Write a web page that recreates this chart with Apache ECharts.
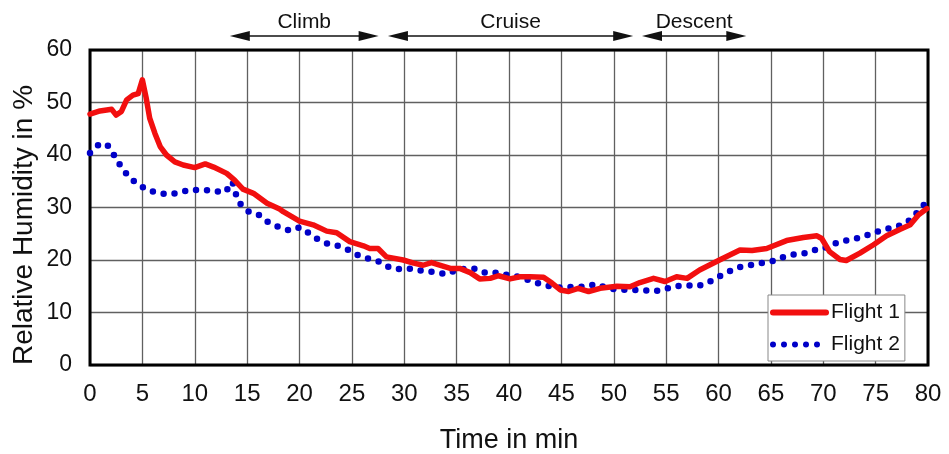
<!DOCTYPE html>
<html>
<head>
<meta charset="utf-8">
<script src="https://cdn.jsdelivr.net/npm/echarts@6/dist/echarts.min.js"></script>
<style>
html,body{margin:0;padding:0;background:#fff;}
#chart{width:949px;height:454px;}
</style>
</head>
<body>
<div id="chart"></div>
<script>
// ---- data ----
var xTicks = [0, 5, 10, 15, 20, 25, 30, 35, 40, 45, 50, 55, 60, 65, 70, 75, 80];
var yTicks = [0, 10, 20, 30, 40, 50, 60];

var flight1Time = [0, 0.95, 2.07, 2.5, 3.0, 3.5, 4.1, 4.6, 5.0, 5.35, 5.7, 6.2, 6.7, 7.3, 8.1, 8.9, 10, 11, 11.8, 13.05, 13.8, 14.6, 15.6, 16.9, 18.1, 18.45, 20, 21.3, 22.6, 23.55, 24.8, 26.1, 26.7, 27.5, 28.3, 29.9, 30.9, 31.8, 32.6, 34.4, 35.3, 36.3, 37.2, 38.2, 39, 40.1, 41.05, 42, 43.3, 44.1, 44.9, 45.7, 46.6, 47.6, 48.7, 50.3, 51.55, 52.5, 53.8, 54.9, 56, 57, 58.2, 60.1, 62.05, 63.2, 64.6, 66.5, 68.1, 69.4, 69.85, 70.6, 71.6, 72.2, 73.5, 74.8, 76.05, 77.3, 78.3, 79.1, 79.9];
var flight1RH   = [47.8, 48.4, 48.7, 47.6, 48.3, 50.5, 51.4, 51.7, 54.3, 51, 47, 44.1, 41.6, 40, 38.7, 38.1, 37.6, 38.3, 37.7, 36.5, 35.2, 33.5, 32.7, 30.8, 29.7, 29.2, 27.4, 26.7, 25.5, 25.2, 23.5, 22.7, 22.2, 22.2, 20.6, 20.0, 19.4, 19.0, 19.5, 18.4, 18.4, 17.6, 16.4, 16.5, 17.0, 16.4, 16.8, 16.8, 16.7, 15.6, 14.3, 14.0, 14.6, 14.0, 14.6, 15.0, 14.9, 15.7, 16.5, 15.9, 16.8, 16.5, 18.1, 20.0, 21.9, 21.8, 22.2, 23.7, 24.3, 24.6, 24.1, 21.6, 20.1, 19.9, 21.3, 22.9, 24.6, 25.8, 26.7, 28.6, 29.8];

var flight2Time = [0, 0.8, 1.6, 2.2, 2.8, 3.4, 4.2, 5.25, 6.3, 7.4, 8.5, 9.55, 10.6, 11.7, 12.7, 13.3, 13.6, 13.9, 14.3, 15.05, 16.1, 17, 18.1, 19.1, 20, 20.9, 21.7, 22.8, 23.7, 24.7, 25.7, 26.7, 27.6, 28.6, 29.7, 30.8, 31.8, 32.9, 34.0, 34.9, 36.0, 36.8, 37.8, 38.9, 39.9, 41.05, 42.1, 43.05, 44.1, 45.1, 46.2, 47.3, 48.3, 49.4, 50.5, 51.6, 52.7, 53.8, 54.8, 55.8, 56.9, 58.0, 59.0, 60.0, 60.9, 61.9, 63.0, 64.1, 65.2, 66.25, 67.3, 68.4, 69.5, 70.5, 71.5, 72.55, 73.6, 74.6, 75.6, 76.6, 77.6, 78.5, 79.2, 79.8];
var flight2RH   = [40.4, 41.9, 42.1, 40.3, 38.3, 36.6, 35.0, 33.6, 32.8, 32.5, 32.8, 33.4, 33.3, 33.3, 32.8, 33.8, 34.9, 32.7, 30.8, 29.3, 28.6, 27.2, 26.2, 25.6, 26.2, 25.1, 24.0, 23.0, 22.7, 21.9, 20.8, 20.2, 19.7, 18.6, 18.2, 18.4, 17.9, 17.7, 17.3, 18.0, 18.4, 18.3, 17.5, 17.6, 17.1, 16.8, 16.0, 15.4, 14.9, 14.7, 14.9, 14.9, 15.4, 14.6, 14.4, 14.3, 14.3, 14.0, 14.4, 15.0, 15.2, 15.0, 15.7, 16.8, 17.7, 18.6, 19.0, 19.4, 19.8, 20.6, 21.1, 21.3, 22.1, 22.5, 23.5, 23.8, 24.3, 25.0, 25.7, 26.2, 26.7, 27.9, 29.7, 30.9];

var phaseNames = ['Climb', 'Cruise', 'Descent'];
var phaseStart = [14.3, 29.4, 53.65];
var phaseEnd   = [26.6, 50.9, 61.7];

var seriesNames = ['Flight 1', 'Flight 2'];

function zip(a, b) { var r = []; for (var i = 0; i < a.length; i++) r.push([a[i], b[i]]); return r; }

var FONT = '"Liberation Sans", Arial, Helvetica, sans-serif';
var RED = '#f20f0f', BLUE = '#0000c8';

var phaseLines = phaseNames.map(function (n, i) {
  return [{ name: n, coord: [phaseStart[i], 0.28] }, { coord: [phaseEnd[i], 0.28] }];
});

var chart = echarts.init(document.getElementById('chart'), null, { renderer: 'canvas' });
chart.setOption({
  animation: false,
  backgroundColor: '#fff',
  textStyle: { fontFamily: FONT },
  grid: [
    { left: 90, right: 21, top: 50, bottom: 89, show: true, borderColor: '#000', borderWidth: 3, backgroundColor: 'transparent', z: 3, containLabel: false, outerBoundsMode: 'none' },
    { left: 90, right: 21, top: 0, height: 50, show: false, containLabel: false, outerBoundsMode: 'none' }
  ],
  xAxis: [
    {
      type: 'value', min: xTicks[0], max: xTicks[xTicks.length - 1], interval: 5, gridIndex: 0,
      axisLine: { show: false }, axisTick: { show: false },
      splitLine: { show: true, lineStyle: { color: '#606060', width: 1.3 } },
      axisLabel: { fontSize: 24, color: '#111', margin: 17, fontFamily: FONT },
      name: 'Time in min', nameLocation: 'middle', nameGap: 62,
      nameTextStyle: { fontSize: 27, color: '#111', fontFamily: FONT }
    },
    { type: 'value', min: 0, max: 80, gridIndex: 1, show: false }
  ],
  yAxis: [
    {
      type: 'value', min: yTicks[0], max: yTicks[yTicks.length - 1], interval: 10, gridIndex: 0,
      axisLine: { show: false }, axisTick: { show: false },
      splitLine: { show: true, lineStyle: { color: '#606060', width: 1.3 } },
      axisLabel: { fontSize: 23, color: '#111', margin: 18, fontFamily: FONT }
    },
    { type: 'value', min: 0, max: 1, gridIndex: 1, show: false }
  ],
  legend: {
    data: seriesNames,
    left: 768, top: 295, orient: 'vertical',
    itemWidth: 53, itemHeight: 16, itemGap: 11,
    padding: [7, 5, 6, 2],
    backgroundColor: '#fff', borderColor: '#888', borderWidth: 1,
    itemStyle: { opacity: 0 },
    lineStyle: { width: 6 },
    textStyle: { fontSize: 21, color: '#111', fontFamily: FONT },
    z: 10
  },
  graphic: [{
    type: 'text', x: 24, y: 225, rotation: Math.PI / 2,
    style: { text: 'Relative Humidity in %', font: '28px ' + FONT, fill: '#111', textAlign: 'center', textVerticalAlign: 'middle' }
  }],
  series: [
    {
      name: seriesNames[0], type: 'line', xAxisIndex: 0, yAxisIndex: 0,
      data: zip(flight1Time, flight1RH), showSymbol: false, symbol: 'none', smooth: false,
      lineStyle: { color: RED, width: 5.5, cap: 'round', join: 'round' },
      itemStyle: { color: RED }, z: 5
    },
    {
      name: seriesNames[1], type: 'line', xAxisIndex: 0, yAxisIndex: 0,
      data: zip(flight2Time, flight2RH), showSymbol: false, symbol: 'none',
      lineStyle: { color: BLUE, width: 6.5, type: [0, 11], cap: 'round' },
      itemStyle: { color: BLUE }, z: 4
    },
    {
      name: 'phases', type: 'line', xAxisIndex: 1, yAxisIndex: 1, data: [],
      markLine: {
        silent: true, symbol: ['triangle', 'triangle'], symbolSize: [10, 20],
        lineStyle: { color: '#111', width: 1.5, type: 'solid' },
        label: { show: true, position: 'insideMiddleTop', formatter: '{b}', distance: 3, fontSize: 21, color: '#111', fontFamily: FONT },
        data: phaseLines
      }
    }
  ]
});
</script>
</body>
</html>
